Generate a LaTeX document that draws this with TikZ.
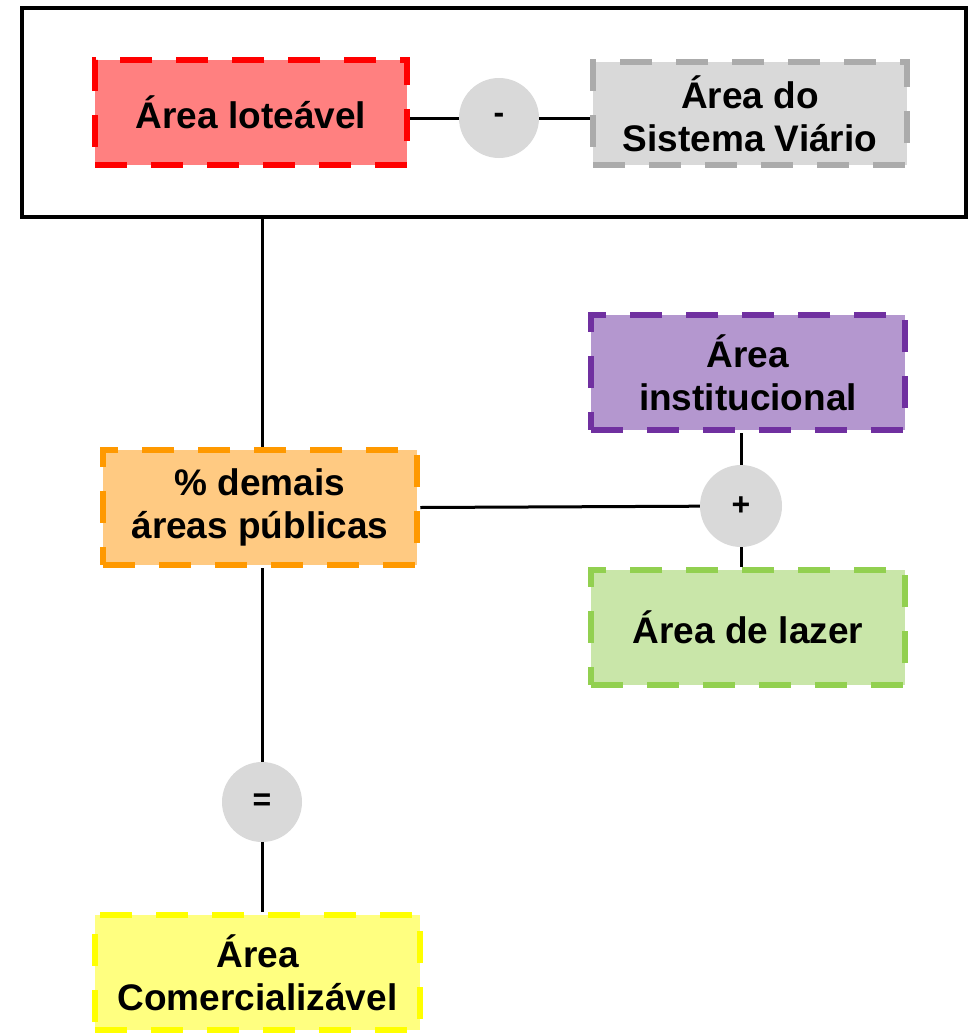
\documentclass[tikz,border=0pt]{standalone}
\usepackage{fontspec}
\setmainfont{Liberation Sans}
\definecolor{redfill}{HTML}{FF8080}
\definecolor{redline}{HTML}{FF0000}
\definecolor{grayfill}{HTML}{D9D9D9}
\definecolor{grayline}{HTML}{ABABAB}
\definecolor{orfill}{HTML}{FFCA82}
\definecolor{orline}{HTML}{FF9900}
\definecolor{pufill}{HTML}{B497CF}
\definecolor{puline}{HTML}{7030A0}
\definecolor{grfill}{HTML}{C9E6A9}
\definecolor{grline}{HTML}{92D050}
\definecolor{yefill}{HTML}{FFFF80}
\definecolor{yeline}{HTML}{FFFF00}
\begin{document}
\begin{tikzpicture}[x=1pt,y=-1pt,
  box/.style={rectangle, minimum width=314pt, minimum height=115pt, inner sep=0pt,
    line width=6.5pt, dash pattern=on 32pt off 24pt, align=center,
    font=\fontsize{37}{43}\selectfont\bfseries},
  op/.style={circle, fill=grayfill, minimum size=80pt, inner sep=0pt,
    font=\fontsize{32}{34}\selectfont\bfseries},
  conn/.style={line width=3pt, black}]
\useasboundingbox (0,0) rectangle (968,1033);
\node[draw, line width=4pt, minimum width=944pt, minimum height=209pt, inner sep=0pt] (frame) at (494,112.5) {};
\node[box, fill=redfill, draw=redline, minimum height=105pt, minimum width=312pt] (lot) at (251,112.5) {Área loteável};
\node[box, fill=grayfill, draw=grayline, minimum height=103pt] (via) at (750,113.5) {Área do\\Sistema Viário};
\node[op] (minus) at (499,118) {-};
\node[box, fill=orfill, draw=orline] (dem) at (260,507.5) {\% demais\\áreas públicas};
\node[box, fill=pufill, draw=puline] (inst) at (748,372.5) {Área\\institucional};
\node[box, fill=grfill, draw=grline] (laz) at (748,627.5) {Área de lazer};
\node[op, minimum size=82pt] (plus) at (741,506) {+};
\node[op] (eq) at (262,802) {=};
\node[box, fill=yefill, draw=yeline, minimum width=325pt] (com) at (257.5,972.5) {Área\\Comercializável};
\draw[conn] (lot.east |- minus) -- (minus);
\draw[conn] (minus) -- (via.west |- minus);
\draw[conn] (frame.south -| eq) -- (eq.north |- dem.north);
\draw[conn] (dem.south -| eq) -- (eq);
\draw[conn] (eq) -- (com.north -| eq);
\draw[conn] (dem.east) -- (plus);
\draw[conn] (inst.south -| plus) -- (plus);
\draw[conn] (plus) -- (laz.north -| plus);
\end{tikzpicture}
\end{document}
